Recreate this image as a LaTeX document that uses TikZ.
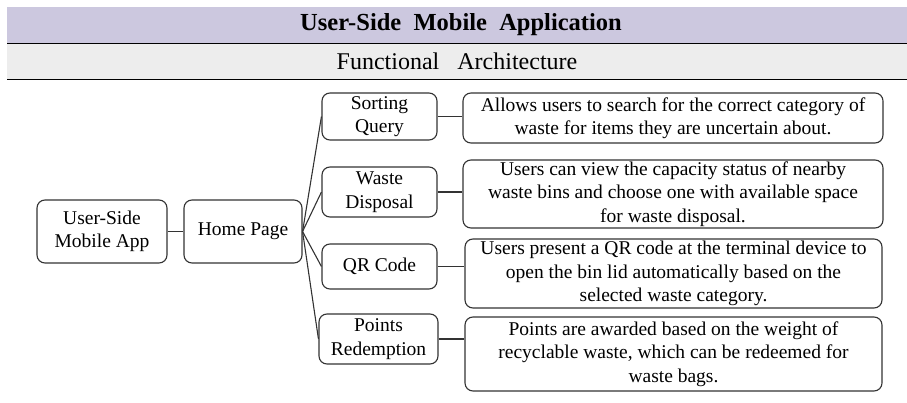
\documentclass[tikz,border=0pt]{standalone}
\usepackage{fontspec}
\setmainfont{Liberation Serif}
\definecolor{bandA}{HTML}{CCC8DF}
\definecolor{bandB}{HTML}{EDEDED}
\definecolor{edge}{HTML}{333333}
\begin{document}
\begin{tikzpicture}[x=1pt,y=-1pt,
  box/.style={draw=edge,line width=1.1pt,rounded corners=8pt,align=center,inner sep=0pt,
    font=\fontsize{19.5}{23.5}\selectfont},
  link/.style={draw=edge,line width=1.1pt}]
\useasboundingbox (0,0) rectangle (907,403);
% header bands
\fill[bandA] (7,7) rectangle (907,43.5);
\fill[bandB] (7,43.5) rectangle (907,79.3);
\draw[line width=1.2pt] (7,43.5) -- (907,43.5);
\draw[line width=1.2pt] (7,79.3) -- (907,79.3);
\node[font=\fontsize{24.5}{27}\selectfont\bfseries] (title) at (461,25) {User-Side\ \ Mobile\ \ Application};
\node[font=\fontsize{24}{27}\selectfont] (sub) at (457,61) {Functional\ \ \ Architecture};
% nodes
\node[box,minimum width=130pt,minimum height=63pt] (app) at (102,231.5) {User-Side\\Mobile App};
\node[box,minimum width=118pt,minimum height=63pt] (home) at (243,231.5) {Home Page};
\node[box,minimum width=115pt,minimum height=47pt] (sq) at (379.5,116.5) {Sorting\\Query};
\node[box,minimum width=115pt,minimum height=50pt] (wd) at (379.5,192) {Waste\\Disposal};
\node[box,minimum width=115pt,minimum height=45pt] (qr) at (379.5,266.5) {QR Code};
\node[box,minimum width=119pt,minimum height=50pt] (pr) at (378.5,339) {Points\\Redemption};
\node[box,minimum width=420pt,minimum height=50pt] (d1) at (673,118)
  {Allows users to search for the correct category of\\waste for items they are uncertain about.};
\node[box,minimum width=420pt,minimum height=68pt] (d2) at (673,194)
  {Users can view the capacity status of nearby\\waste bins and choose one with available space\\for waste disposal.};
\node[box,minimum width=417pt,minimum height=69pt] (d3) at (673.5,273.5)
  {Users present a QR code at the terminal device to\\open the bin lid automatically based on the\\selected waste category.};
\node[box,minimum width=417pt,minimum height=74pt] (d4) at (673.5,354)
  {Points are awarded based on the weight of\\recyclable waste, which can be redeemed for\\waste bags.};
% connectors
\draw[link] (app.east) -- (home.west);
\foreach \n in {sq,wd,qr,pr} \draw[link] (home.east) -- (\n.west);
\draw[link] (sq.east) -- (sq.east -| d1.west);
\draw[link] (wd.east) -- (wd.east -| d2.west);
\draw[link] (qr.east) -- (qr.east -| d3.west);
\draw[link] (pr.east) -- (pr.east -| d4.west);
\end{tikzpicture}
\end{document}
